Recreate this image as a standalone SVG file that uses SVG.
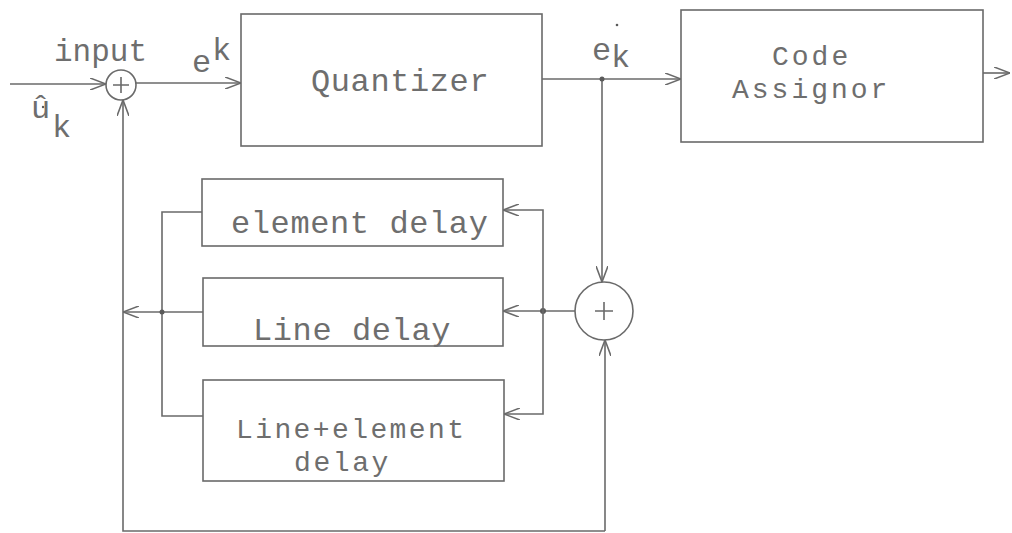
<svg xmlns="http://www.w3.org/2000/svg" width="1012" height="533" viewBox="0 0 1012 533">
<defs>
<style>
.box{fill:none;stroke:#6a6a6a;stroke-width:1.6}
.ln{fill:none;stroke:#6a6a6a;stroke-width:1.6}
.t{font-family:"Liberation Mono","DejaVu Sans Mono",monospace;font-size:32px;fill:#6e6e6e;letter-spacing:0.6px}
.t2{font-family:"Liberation Mono","DejaVu Sans Mono",monospace;font-size:28px;fill:#6e6e6e}
.dot{fill:#5a5a5a}
</style>
<marker id="ah" viewBox="0 0 16 12" refX="16" refY="6" markerWidth="16" markerHeight="12" markerUnits="userSpaceOnUse" orient="auto">
<path d="M0,0 L16,6 L0,12" fill="none" stroke="#6a6a6a" stroke-width="1.6"/>
</marker>
</defs>
<rect width="1012" height="533" fill="#ffffff"/>

<g id="sum1">
<circle cx="121" cy="85" r="15" class="box"/>
<path d="M113,85 H129 M121,77 V93" class="ln"/>
</g>
<g id="quantizer">
<rect x="241" y="14" width="301" height="132" class="box"/>
<text x="311" y="91" class="t">Quantizer</text>
</g>
<g id="code-assignor">
<rect x="681" y="10" width="302" height="132" class="box"/>
<text x="772" y="65" class="t2" style="letter-spacing:3px">Code</text>
<text x="732" y="98" class="t2" style="letter-spacing:3px">Assignor</text>
</g>
<g id="element-delay">
<rect x="202" y="179" width="301" height="67" class="box"/>
<text x="231" y="233" class="t">element delay</text>
</g>
<g id="line-delay">
<rect x="203" y="278" width="300" height="68" class="box"/>
<text x="253" y="340" class="t">Line delay</text>
</g>
<g id="line-element-delay">
<rect x="203" y="380" width="301" height="101" class="box"/>
<text x="236" y="438" class="t2" style="letter-spacing:2.4px">Line+element</text>
<text x="294" y="471" class="t2" style="letter-spacing:2.6px">delay</text>
</g>
<g id="sum2">
<circle cx="604" cy="311" r="29" class="box"/>
<path d="M595,311 H613 M604,302 V320" class="ln"/>
</g>

<g id="labels">
<text x="54" y="61" class="t" style="letter-spacing:0;font-size:31px">input</text>
<text x="192" y="72" class="t" style="letter-spacing:0">e</text>
<text x="212" y="60" class="t" style="letter-spacing:0">k</text>
<text x="592" y="60" class="t" style="letter-spacing:0">e</text>
<text x="611" y="67" class="t" style="letter-spacing:0">k</text>
<circle cx="617" cy="25" r="1.3" class="dot"/>
<text x="31" y="118" class="t" style="letter-spacing:0">û</text>
<text x="52" y="137" class="t" style="letter-spacing:0">k</text>
<circle cx="43" cy="107" r="1.2" class="dot"/>
</g>

<g id="connectors">
<path d="M10,84 H106" class="ln" marker-end="url(#ah)"/>
<path d="M136,83 H241" class="ln" marker-end="url(#ah)"/>
<path d="M542,79 H681" class="ln" marker-end="url(#ah)"/>
<path d="M983,73 H1010" class="ln" marker-end="url(#ah)"/>
<path d="M602,79 V282" class="ln" marker-end="url(#ah)"/>
<circle cx="602" cy="79" r="2.5" class="dot"/>
<path d="M575,311 H503" class="ln" marker-end="url(#ah)"/>
<circle cx="543" cy="311" r="3" class="dot"/>
<path d="M543,311 V210 H503" class="ln" marker-end="url(#ah)"/>
<path d="M543,311 V414 H504" class="ln" marker-end="url(#ah)"/>
<path d="M202,212 H162 V416 H203" class="ln"/>
<path d="M203,312 H123" class="ln" marker-end="url(#ah)"/>
<circle cx="162" cy="312" r="2.5" class="dot"/>
<path d="M605,531 H123 V100" class="ln" marker-end="url(#ah)"/>
<path d="M605,531 V340" class="ln" marker-end="url(#ah)"/>
</g>
</svg>
